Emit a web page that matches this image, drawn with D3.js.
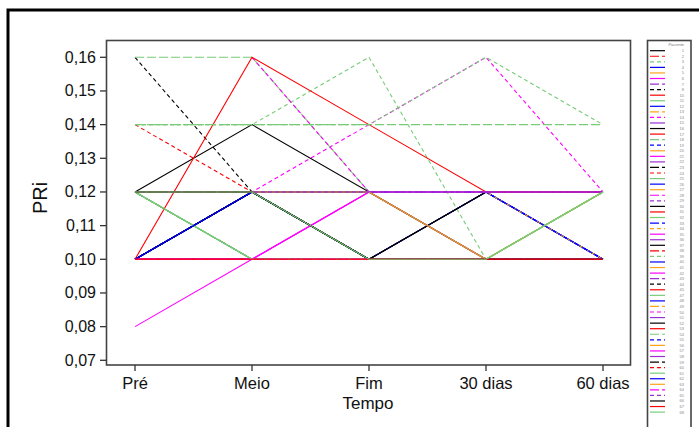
<!DOCTYPE html>
<html>
<head>
<meta charset="utf-8">
<script src="https://d3js.org/d3.v7.min.js"></script>
<style>
  body { margin: 0; background: #fff; }
  svg { display: block; font-family: "Liberation Sans", Arial, sans-serif; }
</style>
</head>
<body>
<script>
// time points on the x axis
var times = ["Pré", "Meio", "Fim", "30 dias", "60 dias"];

// patient numbers shown in the legend
var patientIds = [1,2,3,4,5,6,7,8,10,11,12,13,14,15,16,17,18,19,20,21,22,23,24,25,26,27,28,29,30,
  31,32,33,34,35,36,37,38,39,40,41,42,43,44,45,47,48,49,50,51,52,53,54,55,56,57,58,59,60,
  61,62,63,64,65,66,67,68];

// PRi per patient, one array per time point (null = not measured)
var pre = [0.12,0.10,0.14,0.10,0.12,0.10,0.12,0.16,0.10,0.12,
  0.10,0.12,0.10,0.12,0.10,0.10,0.16,0.10,0.12,0.10,
  0.10,0.12,0.14,0.12,0.10,0.12,0.10,0.12,0.10,0.10,
  0.12,0.10,0.12,0.10,0.10,0.12,0.10,0.14,0.10,0.12,
  0.10,0.12,0.10,0.10,0.12,0.10,0.12,null,0.10,0.10,
  0.10,0.14,0.12,0.12,0.08,0.12,0.12,0.10,0.12,0.10,
  0.12,0.10,0.12,0.12,0.10,0.12];
var meio = [0.12,0.10,0.14,0.12,0.12,0.10,0.12,0.12,0.10,0.10,
  0.12,0.12,0.12,0.12,0.12,0.10,0.16,0.12,0.12,0.10,
  0.10,0.10,0.12,0.10,0.12,0.12,0.10,0.12,0.12,0.10,
  0.12,0.12,0.12,0.10,0.10,0.14,0.10,0.14,0.12,0.12,
  0.10,0.12,0.12,0.10,0.10,0.12,0.12,0.16,0.10,0.12,
  0.16,0.14,0.12,0.12,0.10,0.12,0.12,0.10,0.10,0.12,
  0.12,0.10,0.12,0.12,0.10,0.12];
var fim = [0.10,0.10,0.16,0.12,0.12,0.10,0.12,0.10,0.10,0.10,
  0.12,0.12,0.14,0.12,0.10,0.10,0.12,0.12,0.12,0.12,
  0.10,0.10,0.12,0.10,0.12,0.12,0.10,0.12,0.10,0.10,
  0.10,0.10,0.12,0.10,0.10,0.12,0.10,0.14,0.12,0.12,
  0.12,0.12,0.10,0.10,0.10,0.12,0.12,0.12,0.10,0.10,
  0.14,0.14,0.12,0.12,0.12,0.12,0.10,0.10,0.10,0.12,
  0.12,0.10,0.12,0.10,0.10,0.10];
var dias30 = [0.10,0.10,0.10,0.12,0.10,0.10,0.12,0.10,0.10,0.10,
  0.10,0.10,0.16,0.12,0.12,0.10,0.12,0.12,0.10,0.12,
  0.10,0.12,0.12,0.10,0.12,0.10,0.10,0.12,0.12,0.10,
  0.10,0.12,0.10,0.10,0.10,0.12,0.10,0.16,0.12,0.10,
  0.12,0.12,0.10,0.10,0.10,0.12,0.12,0.12,0.10,0.12,
  0.12,0.14,0.12,0.10,0.12,0.12,0.10,0.10,0.10,0.10,
  0.10,0.10,0.12,0.10,0.10,0.10];
var dias60 = [0.10,0.10,0.12,0.10,0.10,0.10,0.12,0.10,0.10,0.12,
  0.10,0.12,0.12,0.12,0.12,0.10,0.12,0.10,0.10,0.12,
  0.10,0.12,0.12,0.12,0.10,0.10,0.10,0.12,0.12,0.10,
  0.12,0.10,0.12,0.10,0.10,0.12,0.10,0.14,0.10,0.10,
  0.12,0.12,0.10,0.10,0.12,0.10,0.10,0.12,0.10,0.12,
  0.12,0.14,0.10,0.12,0.12,0.12,0.10,0.10,0.12,0.10,
  0.10,0.10,0.12,0.10,0.10,0.12];

var yTicks = [0.07,0.08,0.09,0.10,0.11,0.12,0.13,0.14,0.15,0.16];

// minitab-like cycles: colours repeat every 7, line types every 5
var palette = ["#000000", "#ff0000", "#78cc78", "#0000ff", "#ffa31a", "#ff00ff", "#9b30d0"];
var dashes = [null, "9,3", "4,3", null, null];

var W = 699, H = 427;
var svg = d3.select("body").append("svg").attr("width", W).attr("height", H);

// outer frame
svg.append("rect").attr("x", 8).attr("y", 10).attr("width", 700).attr("height", 430)
  .attr("fill", "none").attr("stroke", "#000").attr("stroke-width", 3);

var x = d3.scalePoint().domain(times).range([135, 603]);
var y = d3.scaleLinear().domain([0.07, 0.16]).range([360.3, 57.3]);

var cols = [pre, meio, fim, dias30, dias60];
var series = patientIds.map(function (id, i) {
  return { id: id, i: i, pts: times.map(function (t, k) { return { t: t, v: cols[k][i] }; }) };
});

var line = d3.line()
  .defined(function (d) { return d.v != null; })
  .x(function (d) { return x(d.t); })
  .y(function (d) { return y(d.v); });

svg.append("g").selectAll("path").data(series).enter().append("path")
  .attr("d", function (d) { return line(d.pts); })
  .attr("fill", "none")
  .attr("stroke", function (d) { return palette[d.i % 7]; })
  .attr("stroke-width", 1.1)
  .attr("stroke-dasharray", function (d) { return dashes[d.i % 5]; });

// plot frame
svg.append("rect").attr("x", 106.5).attr("y", 40.5).attr("width", 524).attr("height", 324.5)
  .attr("fill", "none").attr("stroke", "#444").attr("stroke-width", 1.6);

// y axis
var yAxis = svg.append("g");
yAxis.selectAll("line").data(yTicks).enter().append("line")
  .attr("x1", 100).attr("x2", 106).attr("y1", y).attr("y2", y)
  .attr("stroke", "#333").attr("stroke-width", 1.3);
yAxis.selectAll("text").data(yTicks).enter().append("text")
  .attr("x", 96).attr("y", function (d) { return y(d) + 5.5; })
  .attr("text-anchor", "end").attr("font-size", 16).attr("fill", "#111")
  .text(function (d) { return d3.format(".2f")(d).replace(".", ","); });

// x axis
var xAxis = svg.append("g");
xAxis.selectAll("line").data(times).enter().append("line")
  .attr("x1", x).attr("x2", x).attr("y1", 365).attr("y2", 371)
  .attr("stroke", "#333").attr("stroke-width", 1.3);
xAxis.selectAll("text").data(times).enter().append("text")
  .attr("x", x).attr("y", 389)
  .attr("text-anchor", "middle").attr("font-size", 16.5).attr("fill", "#111")
  .text(function (d) { return d; });

svg.append("text").attr("x", 368).attr("y", 409).attr("text-anchor", "middle")
  .attr("font-size", 17).attr("fill", "#111").text("Tempo");
svg.append("text").attr("transform", "translate(47,198) rotate(-90)")
  .attr("text-anchor", "middle").attr("font-size", 20).attr("fill", "#111").text("PRi");

// legend
var lg = svg.append("g");
lg.append("rect").attr("x", 647.5).attr("y", 40.5).attr("width", 43.5).attr("height", 400)
  .attr("fill", "#fff").attr("stroke", "#444").attr("stroke-width", 1.6);
lg.append("text").attr("x", 684).attr("y", 45.5).attr("text-anchor", "end")
  .attr("font-size", 4).attr("fill", "#777").text("Paciente");
var rowY = function (i) { return 50.7 + i * 5.56; };
var items = lg.selectAll("g.item").data(series).enter().append("g").attr("class", "item");
items.append("line")
  .attr("x1", 650).attr("x2", 665)
  .attr("y1", function (d) { return rowY(d.i); }).attr("y2", function (d) { return rowY(d.i); })
  .attr("stroke", function (d) { return palette[d.i % 7]; })
  .attr("stroke-width", 1.2)
  .attr("stroke-dasharray", function (d) { return dashes[d.i % 5]; });
items.append("text")
  .attr("x", 684).attr("y", function (d) { return rowY(d.i) + 1.5; })
  .attr("text-anchor", "end").attr("font-size", 4).attr("fill", "#888")
  .text(function (d) { return d.id; });
</script>
</body>
</html>
